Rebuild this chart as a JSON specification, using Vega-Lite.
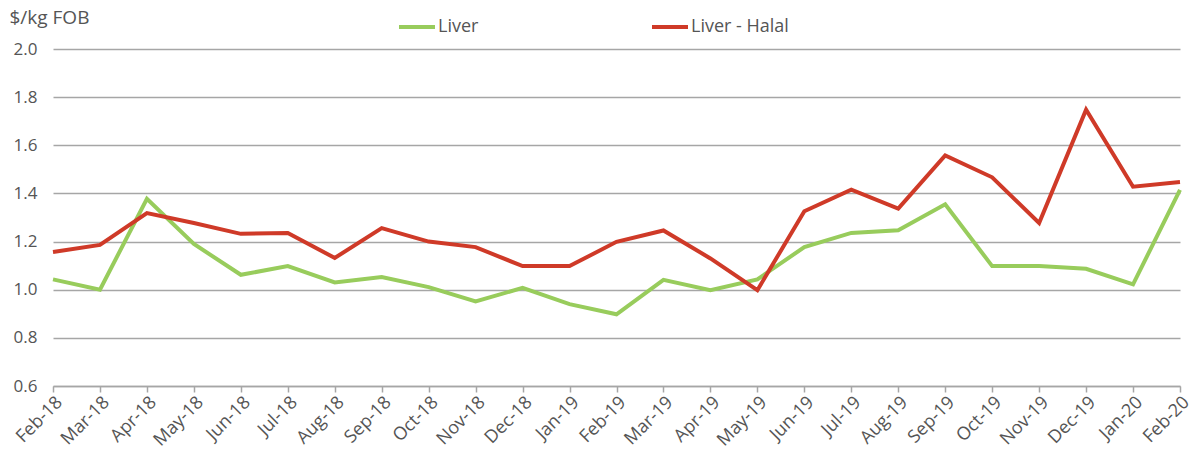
{
  "$schema": "https://vega.github.io/schema/vega-lite/v6.json",
  "width": 1127,
  "height": 337,
  "autosize": {"type": "none"},
  "padding": {"left": 53, "top": 49, "right": 9, "bottom": 75},
  "background": "white",
  "config": {
    "font": "Open Sans",
    "view": {"stroke": null}
  },
  "data": {
    "values": [
      {"month": "Feb-18", "series": "Liver", "value": 1.043},
      {"month": "Mar-18", "series": "Liver", "value": 1.0},
      {"month": "Apr-18", "series": "Liver", "value": 1.378},
      {"month": "May-18", "series": "Liver", "value": 1.19},
      {"month": "Jun-18", "series": "Liver", "value": 1.062},
      {"month": "Jul-18", "series": "Liver", "value": 1.098},
      {"month": "Aug-18", "series": "Liver", "value": 1.03},
      {"month": "Sep-18", "series": "Liver", "value": 1.053},
      {"month": "Oct-18", "series": "Liver", "value": 1.011},
      {"month": "Nov-18", "series": "Liver", "value": 0.951},
      {"month": "Dec-18", "series": "Liver", "value": 1.008},
      {"month": "Jan-19", "series": "Liver", "value": 0.94},
      {"month": "Feb-19", "series": "Liver", "value": 0.898},
      {"month": "Mar-19", "series": "Liver", "value": 1.041},
      {"month": "Apr-19", "series": "Liver", "value": 0.998},
      {"month": "May-19", "series": "Liver", "value": 1.043},
      {"month": "Jun-19", "series": "Liver", "value": 1.177},
      {"month": "Jul-19", "series": "Liver", "value": 1.236},
      {"month": "Aug-19", "series": "Liver", "value": 1.247},
      {"month": "Sep-19", "series": "Liver", "value": 1.355},
      {"month": "Oct-19", "series": "Liver", "value": 1.098},
      {"month": "Nov-19", "series": "Liver", "value": 1.098},
      {"month": "Dec-19", "series": "Liver", "value": 1.087},
      {"month": "Jan-20", "series": "Liver", "value": 1.022},
      {"month": "Feb-20", "series": "Liver", "value": 1.415},
      {"month": "Feb-18", "series": "Liver - Halal", "value": 1.157},
      {"month": "Mar-18", "series": "Liver - Halal", "value": 1.186},
      {"month": "Apr-18", "series": "Liver - Halal", "value": 1.318},
      {"month": "May-18", "series": "Liver - Halal", "value": 1.277},
      {"month": "Jun-18", "series": "Liver - Halal", "value": 1.232},
      {"month": "Jul-18", "series": "Liver - Halal", "value": 1.236},
      {"month": "Aug-18", "series": "Liver - Halal", "value": 1.132},
      {"month": "Sep-18", "series": "Liver - Halal", "value": 1.256},
      {"month": "Oct-18", "series": "Liver - Halal", "value": 1.2},
      {"month": "Nov-18", "series": "Liver - Halal", "value": 1.177},
      {"month": "Dec-18", "series": "Liver - Halal", "value": 1.098},
      {"month": "Jan-19", "series": "Liver - Halal", "value": 1.098},
      {"month": "Feb-19", "series": "Liver - Halal", "value": 1.199},
      {"month": "Mar-19", "series": "Liver - Halal", "value": 1.246},
      {"month": "Apr-19", "series": "Liver - Halal", "value": 1.13},
      {"month": "May-19", "series": "Liver - Halal", "value": 0.998},
      {"month": "Jun-19", "series": "Liver - Halal", "value": 1.326},
      {"month": "Jul-19", "series": "Liver - Halal", "value": 1.416},
      {"month": "Aug-19", "series": "Liver - Halal", "value": 1.337},
      {"month": "Sep-19", "series": "Liver - Halal", "value": 1.558},
      {"month": "Oct-19", "series": "Liver - Halal", "value": 1.467},
      {"month": "Nov-19", "series": "Liver - Halal", "value": 1.277},
      {"month": "Dec-19", "series": "Liver - Halal", "value": 1.748},
      {"month": "Jan-20", "series": "Liver - Halal", "value": 1.428},
      {"month": "Feb-20", "series": "Liver - Halal", "value": 1.447}
    ]
  },
  "mark": {"type": "line", "strokeWidth": 4, "strokeJoin": "miter"},
  "encoding": {
    "x": {
      "field": "month",
      "type": "ordinal",
      "sort": null,
      "scale": {"type": "point", "padding": 0},
      "axis": {
        "title": null,
        "labelAngle": -45,
        "labelAlign": "right",
        "labelBaseline": "top",
        "labelFontSize": 18,
        "labelColor": "#555555",
        "labelPadding": 1,
        "labelDx": -12,
        "labelOverlap": false,
        "domainColor": "#a6a6a6",
        "domainWidth": 1.5,
        "tickColor": "#a6a6a6",
        "tickWidth": 1.5,
        "tickSize": 6,
        "grid": false
      }
    },
    "y": {
      "field": "value",
      "type": "quantitative",
      "scale": {"domain": [0.6, 2.0], "nice": false, "zero": false},
      "axis": {
        "values": [0.6, 0.8, 1.0, 1.2, 1.4, 1.6, 1.8, 2.0],
        "format": ".1f",
        "title": "$/kg FOB",
        "titleAngle": 0,
        "titleAlign": "left",
        "titleBaseline": "middle",
        "titleX": -44,
        "titleY": -32,
        "titleFontSize": 19,
        "titleFontWeight": "normal",
        "titleColor": "#555555",
        "labelFontSize": 17,
        "labelColor": "#555555",
        "labelPadding": 16,
        "domain": false,
        "ticks": false,
        "grid": true,
        "gridColor": "#a6a6a6",
        "gridWidth": 1.5
      }
    },
    "color": {
      "field": "series",
      "type": "nominal",
      "scale": {"domain": ["Liver", "Liver - Halal"], "range": ["#98cc5c", "#cf3a28"]},
      "legend": {
        "title": null,
        "orient": "none",
        "legendX": 344,
        "legendY": -42,
        "direction": "horizontal",
        "columns": 2,
        "columnPadding": 165,
        "symbolType": "stroke",
        "symbolSize": 1296,
        "symbolStrokeWidth": 4,
        "labelFontSize": 18,
        "labelColor": "#555555",
        "labelOffset": 1
      }
    }
  }
}
